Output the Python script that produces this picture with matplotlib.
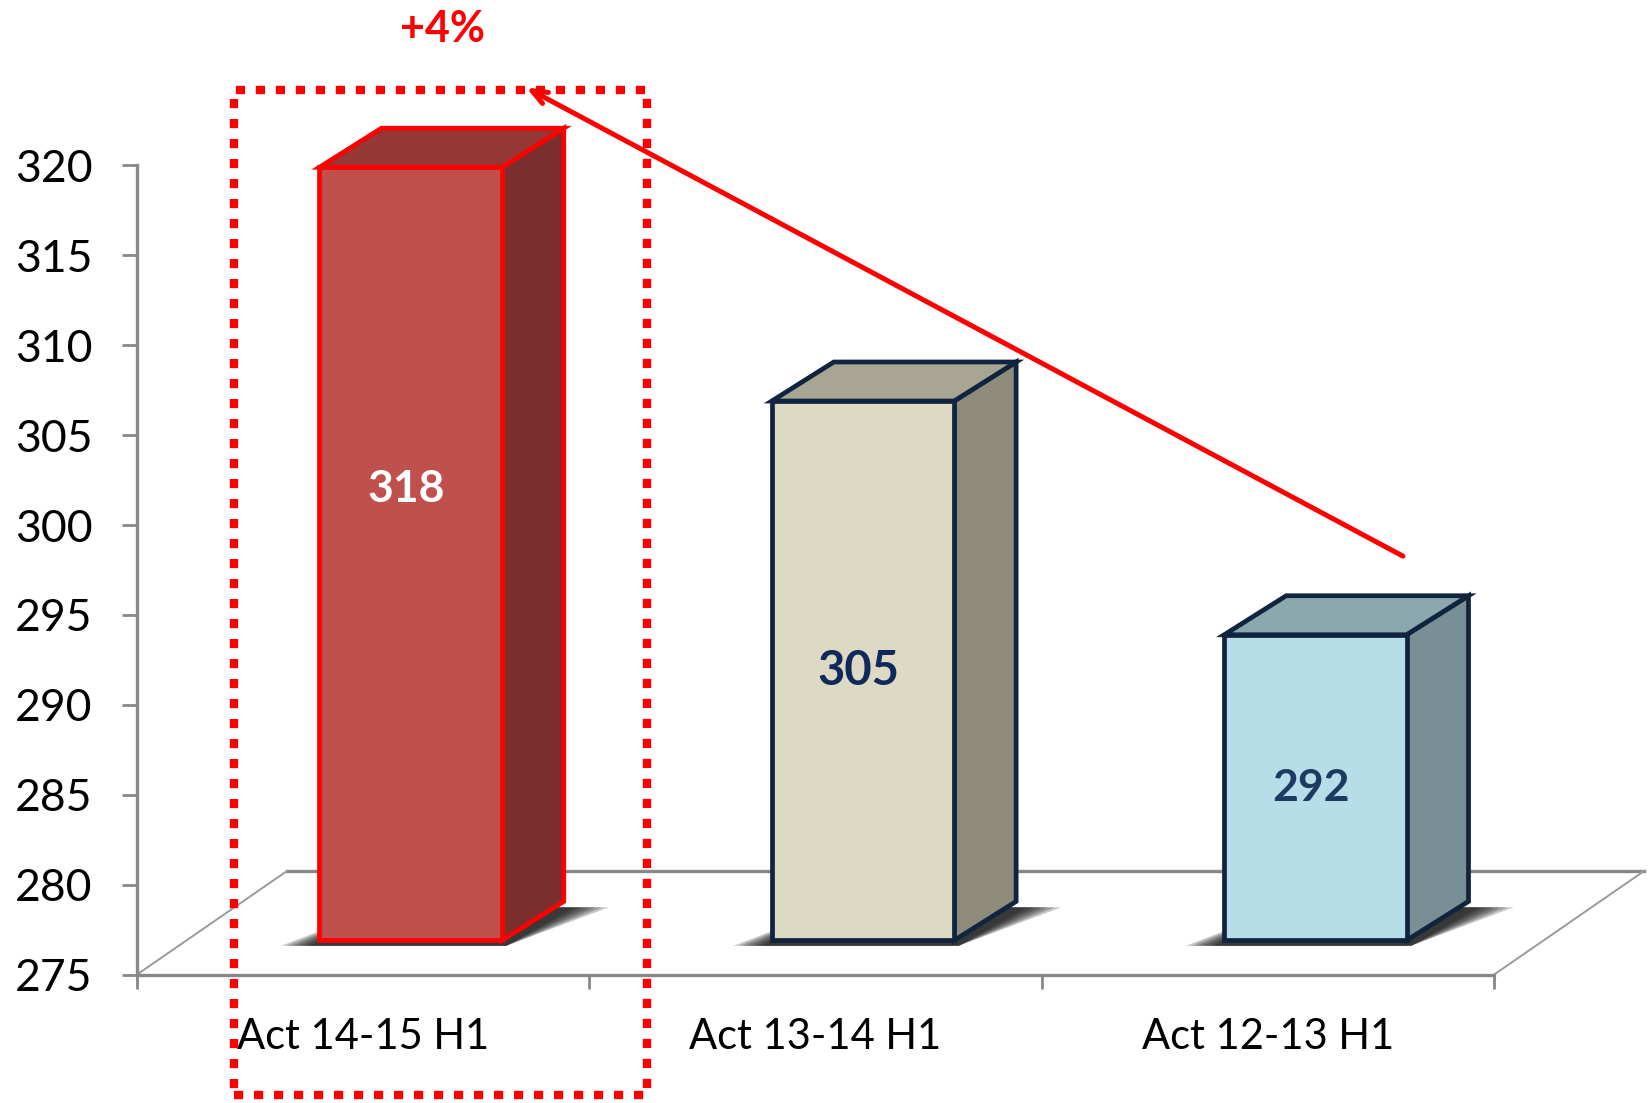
import matplotlib.pyplot as plt
from matplotlib.patches import Polygon, Rectangle

plt.rcParams['font.family'] = ['Lato', 'DejaVu Sans']

categories = ["Act 14-15 H1", "Act 13-14 H1", "Act 12-13 H1"]
values = [318, 305, 292]
yticks = [275, 280, 285, 290, 295, 300, 305, 310, 315, 320]
change_label = "+4%"

front_cols = ["#C0504D", "#DDD9C3", "#B7DDE8"]
top_cols = ["#943735", "#A9A593", "#8CA8AF"]
side_cols = ["#782F2E", "#8E8B7A", "#778F95"]
edge_cols = ["#FF0000", "#10243F", "#10243F"]
text_cols = ["white", "#10285A", "#1F3A60"]

base = 275
# 3d look: floor depth, bar offset inside the floor, bar depth
fdx, fdy = 0.331, 5.75
bfx, bfy = 0.105, 1.9
bdx, bdy = 0.137, 2.17
w = 0.403

fig = plt.figure(figsize=(16.52, 11.03), dpi=100)
ax = fig.add_axes([0.0829, 0.1164, 0.8215, 0.7336])
ax.set_xlim(-0.5, 2.5)
ax.set_ylim(base, 320)

for s in ["top", "right"]:
    ax.spines[s].set_visible(False)
for s in ["left", "bottom"]:
    ax.spines[s].set_color("#888888")
    ax.spines[s].set_linewidth(2.4)

ax.set_yticks(yticks)
ax.tick_params(axis="y", length=11, width=2, color="#888888", pad=21, labelsize=32)
ax.set_xticks(range(len(categories)))
ax.set_xticklabels(categories)
ax.tick_params(axis="x", length=0, pad=31, labelsize=30)
ax.set_xticks([-0.5, 0.5, 1.5, 2.5], minor=True)
ax.tick_params(axis="x", which="minor", length=10, width=2, color="#888888")

# floor
ax.plot([-0.5 + fdx, 2.5 + fdx], [base + fdy] * 2, color="#888888", lw=2.4, clip_on=False, zorder=1)
ax.plot([-0.5, -0.5 + fdx], [base, base + fdy], color="#9a9a9a", lw=1.4, clip_on=False, zorder=1)
ax.plot([2.5, 2.5 + fdx], [base, base + fdy], color="#9a9a9a", lw=1.4, clip_on=False, zorder=1)

for i, v in enumerate(values):
    x0 = i + bfx - w / 2
    x1 = x0 + w
    y0 = base + bfy
    y1 = v + bfy
    # soft shadow at the foot of the bar
    for k in [1.0, 0.85, 0.7, 0.55, 0.4, 0.25]:
        sh = [(x0 - 0.085 * k, y0 - 0.3), (x1 + 0.01, y0 - 0.3),
              (x1 + bdx + 0.1 * k, y0 + bdy * 0.85), (x0 + bdx, y0 + bdy * 0.85)]
        ax.add_patch(Polygon(sh, closed=True, facecolor="black", edgecolor="none",
                             alpha=0.22, clip_on=False, zorder=2))
    front = [(x0, y0), (x1, y0), (x1, y1), (x0, y1)]
    top = [(x0, y1), (x1, y1), (x1 + bdx, y1 + bdy), (x0 + bdx, y1 + bdy)]
    side = [(x1, y0), (x1 + bdx, y0 + bdy), (x1 + bdx, y1 + bdy), (x1, y1)]
    for pts, fc in [(side, side_cols[i]), (top, top_cols[i]), (front, front_cols[i])]:
        ax.add_patch(Polygon(pts, closed=True, facecolor=fc, edgecolor=edge_cols[i],
                             lw=3.4, joinstyle="miter", clip_on=False, zorder=3))
    ly = (y0 + y1) / 2
    if i == 0:
        ly = 302
    ax.text(i + bfx - 0.01, ly, str(v), ha="center", va="center", fontsize=32 if i != 1 else 34,
            fontweight="bold", color=text_cols[i], zorder=5)

# highlight box around first bar
ax.add_patch(Rectangle((-0.286, 268.3), 0.914, 55.9, fill=False, edgecolor="#FF0000",
                       lw=6, linestyle=(0, (1.1, 1.3)), clip_on=False, zorder=6))

# trend arrow
ax.annotate("", xy=(0.355, 324.4), xytext=(2.304, 298.2),
            arrowprops=dict(arrowstyle="->,head_length=1.1,head_width=0.45", color="#FF0000", lw=3.6),
            annotation_clip=False, zorder=7)
ax.text(0.176, 327.6, change_label, ha="center", va="center", fontsize=31,
        fontweight="bold", color="#FF0000")

fig.savefig("out.png", dpi=100)
